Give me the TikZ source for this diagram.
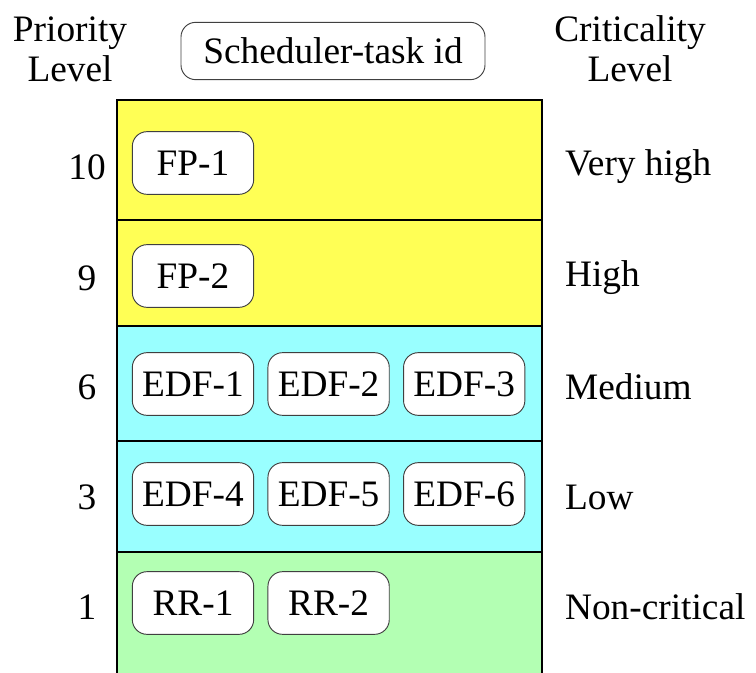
\documentclass[tikz,border=0pt]{standalone}
\usepackage{fontspec}
\setmainfont{Liberation Serif}
\usetikzlibrary{positioning}
\definecolor{crityellow}{RGB}{255,255,85}
\definecolor{critcyan}{RGB}{153,255,255}
\definecolor{critgreen}{RGB}{179,255,179}
\tikzset{
  every picture/.style={
    line width=1pt
  },
  task/.style={draw=black!75, line width=0.7pt, fill=white, rounded corners=11pt,
    minimum width=91pt, minimum height=47pt, inner sep=0pt},
  lvl/.style={font=\fontsize{28}{30}\selectfont},
  % crit/.style={lvl, anchor=west},
}

\begin{document}
\begin{tikzpicture}[x=0.75pt, y=-0.75pt, lvl]
  \useasboundingbox (0,0) rectangle (756,673);

  % level bands
  \fill[crityellow] (117,100) rectangle (542,220);
  \fill[crityellow] (117,220) rectangle (542,326);
  \fill[critcyan] (117,326) rectangle (542,441);
  \fill[critcyan] (117,441) rectangle (542,552);
  \fill[critgreen] (117,552) rectangle (542,673);
  \draw[line width=2pt] (117,673) -- (117,100) -- (542,100) -- (542,673);
  \draw[line width=2pt] (117,220) -- (542,220);
  \draw[line width=2pt] (117,326) -- (542,326);
  \draw[line width=2pt] (117,441) -- (542,441);
  \draw[line width=2pt] (117,552) -- (542,552);

  % header
  \node[align=center] (prio) at (70,49) {Priority\\Level};
  \node[task, minimum width=228pt, minimum height=43pt] (sched) at (333,51) {Scheduler-task id};
  \node[align=center] (crit) at (630,49) {Criticality\\Level};

  % tasks
  \node[task] (fpone) at (193,163) {FP-1};
  \node[task] (fptwo) at (193,276) {FP-2};
  \node[task] (edfone) at (193,384) {EDF-1};
  \node[task, right=10pt of edfone] (edftwo) {EDF-2};
  \node[task, right=10pt of edftwo] (edfthree) {EDF-3};
  \node[task] (edffour) at (193,494) {EDF-4};
  \node[task, right=10pt of edffour] (edffive) {EDF-5};
  \node[task, right=10pt of edffive] (edfsix) {EDF-6};
  \node[task] (rrone) at (193,603) {RR-1};
  \node[task, right=10pt of rrone] (rrtwo) {RR-2};

  % priority levels
  \node (pten) at (87,167) {10};
  \node (pnine) at (87,278) {9};
  \node (psix) at (87,387) {6};
  \node (pthree) at (87,497) {3};
  \node (pone) at (87,607) {1};

  % criticality levels
  \node[anchor=west] (cvhigh) at (560,167) {Very high};
  \node[anchor=west] (chigh) at (560,278) {High};
  \node[anchor=west] (cmed) at (560,387) {Medium};
  \node[anchor=west] (clow) at (560,497) {Low};
  \node[anchor=west] (cnon) at (560,607) {Non-critical};
\end{tikzpicture}
\end{document}
